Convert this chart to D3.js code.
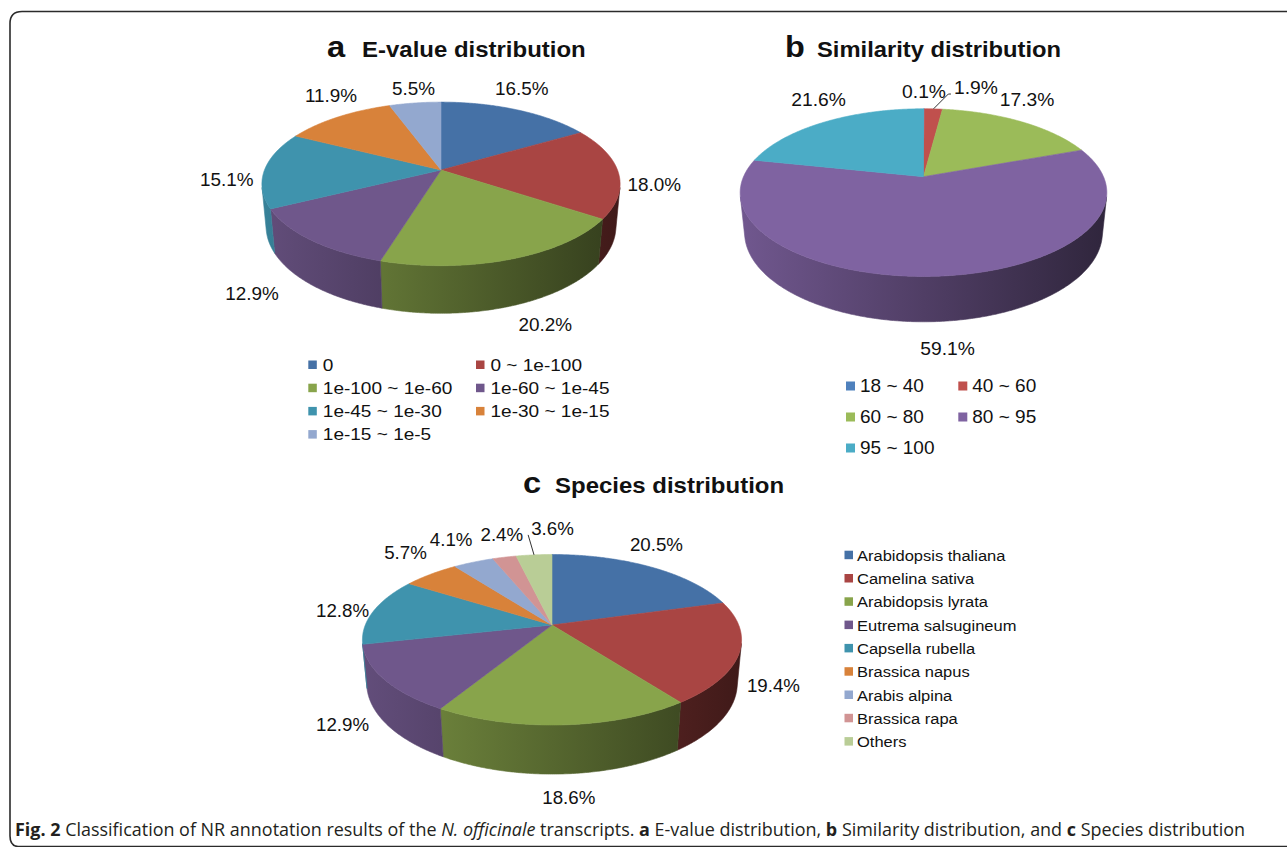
<!DOCTYPE html>
<html><head><meta charset="utf-8">
<script src="https://cdn.jsdelivr.net/npm/d3@7"></script>
<style>
html,body{margin:0;padding:0;background:#fff;}
svg{display:block;}
text{font-family:"Liberation Sans", Arial, Helvetica, sans-serif;fill:#111;}
</style></head><body>
<svg id="fig" width="1287" height="847"></svg>
<script>
// ---- data ----
const evalueCats = ["0", "0 ~ 1e-100", "1e-100 ~ 1e-60", "1e-60 ~ 1e-45", "1e-45 ~ 1e-30", "1e-30 ~ 1e-15", "1e-15 ~ 1e-5"];
const evaluePct = [16.5, 18.0, 20.2, 12.9, 15.1, 11.9, 5.5];
const evalueColors = ["#4571a6", "#a94543", "#88a44b", "#6f578b", "#3f93ad", "#d8823a", "#93a8cf"];

const simCats = ["18 ~ 40", "40 ~ 60", "60 ~ 80", "80 ~ 95", "95 ~ 100"];
const simPct = [0.1, 1.9, 17.3, 59.1, 21.6];
const simColors = ["#4f81bd", "#c0504d", "#9bbb59", "#7f63a1", "#4bacc6"];

const speciesCats = ["Arabidopsis thaliana", "Camelina sativa", "Arabidopsis lyrata", "Eutrema salsugineum", "Capsella rubella", "Brassica napus", "Arabis alpina", "Brassica rapa", "Others"];
const speciesPct = [20.5, 19.4, 18.6, 12.9, 12.8, 5.7, 4.1, 2.4, 3.6];
const speciesColors = ["#4571a6", "#a94543", "#88a44b", "#6f578b", "#3f93ad", "#d8823a", "#93a8cf", "#d19494", "#b9cd96"];

// ---- layout ----
const svg = d3.select("#fig");
const defs = svg.append("defs");
const deg = Math.PI / 180;

// frame with rounded top-left / bottom-left corners
svg.append("path")
  .attr("d", "M1290,11.5 L22,11.5 Q10,11.5 10,23.5 L10,836 Q10,846 18,846.5 L1290,846.5")
  .attr("fill", "none").attr("stroke", "#2b2b2b").attr("stroke-width", 1.6);

function stretchedText(g, x, y, str, o) {
  return g.append("text")
    .attr("transform", `translate(${x},${y}) scale(${o.sx || 1},1)`)
    .attr("font-size", o.size)
    .attr("font-weight", o.weight || "normal")
    .attr("text-anchor", o.anchor || "start")
    .text(str);
}

const pie = d3.pie().sort(null).value(d => d.v).startAngle(0).endAngle(2 * Math.PI);

function overlaps(a, b) {
  const ox = Math.min(a.x + a.w / 2, b.x + b.w / 2) - Math.max(a.x - a.w / 2, b.x - b.w / 2);
  const oy = Math.min(a.y + a.h / 2, b.y + b.h / 2) - Math.max(a.y - a.h / 2, b.y - b.h / 2);
  return ox > 0 && oy > 0;
}

function drawPie3D(cfg) {
  const g = svg.append("g");
  const sinT = Math.sin(cfg.tilt), cosT = Math.cos(cfg.tilt);
  const proj = (theta, r, y) => {
    const X = r * Math.sin(theta), Z = r * Math.cos(theta);
    const yp = y * cosT + Z * sinT;
    const d = Z * cosT - y * sinT;
    const s = cfg.focal / (cfg.focal + d);
    return [cfg.cx + X * s, cfg.cy - yp * s];
  };
  const rim = (a0, a1, r, y) => {
    const n = Math.max(2, Math.ceil(Math.abs(a1 - a0) / (0.5 * deg)));
    return d3.range(n + 1).map(i => proj(a0 + (a1 - a0) * i / n, r, y));
  };
  const arcs = pie(cfg.values.map((v, i) => ({ v, i })));
  const shade = d3.scaleLinear().domain([cfg.cx - cfg.R, cfg.cx + cfg.R]).range([0.12, 0.62]);

  // outer walls on the side facing the viewer
  const thS = Math.acos(-cfg.R / (cfg.focal * cosT));
  arcs.forEach((a, i) => {
    const lo = Math.max(a.startAngle, thS), hi = Math.min(a.endAngle, 2 * Math.PI - thS);
    if (hi <= lo) return;
    const gid = `${cfg.id}-wall-${i}`;
    const lg = defs.append("linearGradient").attr("id", gid)
      .attr("gradientUnits", "userSpaceOnUse")
      .attr("x1", cfg.cx - cfg.R).attr("x2", cfg.cx + cfg.R).attr("y1", 0).attr("y2", 0);
    [0, 0.5, 1].forEach(t => {
      const x = cfg.cx - cfg.R + 2 * cfg.R * t;
      lg.append("stop").attr("offset", t)
        .attr("stop-color", d3.interpolateRgb(cfg.colors[i], "#000")(shade(x)));
    });
    const pts = rim(lo, hi, cfg.R, 0).concat(rim(hi, lo, cfg.R, -cfg.H));
    g.append("path").attr("d", d3.line()(pts) + "Z")
      .attr("fill", `url(#${gid})`).attr("stroke", `url(#${gid})`).attr("stroke-width", 0.6);
  });

  // top faces
  arcs.forEach((a, i) => {
    const pts = [proj(0, 0, 0)].concat(rim(a.startAngle, a.endAngle, cfg.R, 0));
    g.append("path").attr("d", d3.line()(pts) + "Z")
      .attr("fill", cfg.colors[i]).attr("stroke", cfg.colors[i]).attr("stroke-width", 0.6)
      .attr("stroke-linejoin", "round");
  });

  // percentage labels, outside end
  const top = proj(0, cfg.R, 0), front = proj(Math.PI, cfg.R, 0);
  const ecx = cfg.cx, ecy = (top[1] + front[1]) / 2;
  const ea = cfg.R * 1.015, eb = (front[1] - top[1]) / 2;
  const labels = arcs.map((a, i) => {
    const th = (a.startAngle + a.endAngle) / 2;
    const c = Math.cos(th), s = Math.sin(th);
    const str = cfg.values[i].toFixed(1) + "%";
    const tmp = stretchedText(g, 0, 0, str, { size: cfg.labelSize, sx: cfg.labelSx });
    const w = tmp.node().getComputedTextLength() * cfg.labelSx;
    tmp.remove();
    const h = cfg.labelSize * 0.95;
    let x, y;
    if (c > 0.3) {
      // far side: push out along the rim ellipse normal
      const [px, py] = proj(th, cfg.R, 0);
      let nx = (px - ecx) / (ea * ea), ny = (py - ecy) / (eb * eb);
      const nl = Math.hypot(nx, ny); nx /= nl; ny /= nl;
      const ext = Math.min(w / 2 / Math.max(1e-6, Math.abs(nx)), h / 2 / Math.max(1e-6, Math.abs(ny)));
      x = px + nx * (cfg.gap + ext); y = py + ny * (cfg.gap + ext);
    } else {
      // sides and near side: beyond the wall, at its mid height
      const k = 1.22 - 0.08 * c;
      const yl = -cfg.H / 2 * Math.max(0, Math.min(1, (0.3 - c) / 0.6));
      const [px, py] = proj(th, cfg.R * k, yl);
      x = px + s * w / 2; y = py - c * h / 2;
    }
    x = Math.max(cfg.box[0] + w / 2, Math.min(cfg.box[1] - w / 2, x));
    y = Math.max(cfg.box[2] + h / 2, y);
    return { th, s, str, w, h, x, y, moved: false };
  });
  // resolve collisions: labels near 12 o'clock move right with a leader,
  // others on the left push their predecessors further left
  labels.forEach((L, i) => {
    for (let j = 0; j < i; j++) {
      if (!overlaps(L, labels[j])) continue;
      if (Math.abs(L.s) < 0.25) {
        L.x = labels[j].x + labels[j].w / 2 + 8 + L.w / 2; L.y -= 4; L.moved = true;
      } else if (L.s < 0) {
        labels[j].x = L.x - L.w / 2 - 8 - labels[j].w / 2;
        for (let m = j - 1; m >= 0; m--) {
          if (labels[m].s < 0 && overlaps(labels[m], labels[m + 1]))
            labels[m].x = labels[m + 1].x - labels[m + 1].w / 2 - 3 - labels[m].w / 2;
        }
      }
    }
  });
  labels.forEach(L => {
    const base = L.y + cfg.labelSize * 0.36;
    if (L.moved) {
      const [rx, ry] = proj(L.th, cfg.R, 0);
      const ex = L.x - L.w / 2 - 3, ey = base;
      const horiz = Math.max(0, Math.abs(ex - rx) - Math.abs(ey - ry));
      g.append("path")
        .attr("d", d3.line()([[rx, ry], [ex - horiz, ey], [ex, ey]]))
        .attr("fill", "none").attr("stroke", "#333").attr("stroke-width", 1);
    }
    stretchedText(g, L.x, base, L.str, { size: cfg.labelSize, sx: cfg.labelSx, anchor: "middle" });
  });

  // title
  stretchedText(g, cfg.title.x0, cfg.title.y, cfg.title.letter, { size: 30, weight: "bold", sx: cfg.titleSx });
  stretchedText(g, cfg.title.x1, cfg.title.y, cfg.title.text, { size: 22, weight: "bold", sx: cfg.titleSx });

  // legend
  const Lg = cfg.legend;
  const col = i => Lg.xs[i % Lg.xs.length];
  const row = d3.scaleLinear().domain([0, 1]).range([Lg.y0, Lg.y0 + Lg.dy]);
  cfg.cats.forEach((name, i) => {
    const by = row(Math.floor(i / Lg.xs.length));
    g.append("rect").attr("x", col(i)).attr("y", by - Lg.sq - 1.5)
      .attr("width", Lg.sq).attr("height", Lg.sq).attr("fill", cfg.colors[i]);
    stretchedText(g, col(i) + Lg.gap, by, name, { size: Lg.size, sx: Lg.sx });
  });
}

drawPie3D({
  id: "ev", values: evaluePct, colors: evalueColors, cats: evalueCats,
  cx: 441, cy: 170, R: 176.5, tilt: Math.asin(0.45), focal: 928, H: 48,
  labelSize: 17.5, labelSx: 1.08, box: [200, 681, 80], gap: 14,
  titleSx: 1.09, title: { letter: "a", text: "E-value distribution", x0: 327, x1: 362, y: 57 },
  legend: { xs: [308.3, 476], y0: 370.5, dy: 23.2, sq: 8.5, gap: 14.5, size: 17, sx: 1.12 }
});

drawPie3D({
  id: "sim", values: simPct, colors: simColors, cats: simCats,
  cx: 923.5, cy: 176.7, R: 180, tilt: Math.asin(0.449), focal: 847.6, H: 45,
  labelSize: 18, labelSx: 1.07, box: [700, 1150, 83], gap: 14,
  titleSx: 1.08, title: { letter: "b", text: "Similarity distribution", x0: 785, x1: 817, y: 57 },
  legend: { xs: [846, 958.3], y0: 392, dy: 31, sq: 9, gap: 14, size: 19, sx: 1.0 }
});

drawPie3D({
  id: "sp", values: speciesPct, colors: speciesColors, cats: speciesCats,
  cx: 552, cy: 625, R: 186.7, tilt: Math.asin(0.443), focal: 967.4, H: 49,
  labelSize: 17.5, labelSx: 1.07, box: [316, 800, 515], gap: 14,
  titleSx: 1.09, title: { letter: "c", text: "Species distribution", x0: 523, x1: 555, y: 493 },
  legend: { xs: [844.5], y0: 560.7, dy: 23.3, sq: 8.5, gap: 12.5, size: 15, sx: 1.1 }
});

// figure caption
const cap = svg.append("text").attr("x", 15).attr("y", 836)
  .attr("font-size", 18).attr("textLength", 1230).attr("lengthAdjust", "spacingAndGlyphs")
  .style("font-family", "'Open Sans', sans-serif").style("fill", "#231f20");
[["Fig. 2", "bold"], [" Classification of NR annotation results of the ", null], ["N. officinale", "italic"],
 [" transcripts. ", null], ["a", "bold"], [" E-value distribution, ", null], ["b", "bold"],
 [" Similarity distribution, and ", null], ["c", "bold"], [" Species distribution", null]]
  .forEach(([t, st]) => {
    const ts = cap.append("tspan").text(t);
    if (st === "bold") ts.attr("font-weight", "bold");
    if (st === "italic") ts.attr("font-style", "italic");
  });
</script>
</body></html>
